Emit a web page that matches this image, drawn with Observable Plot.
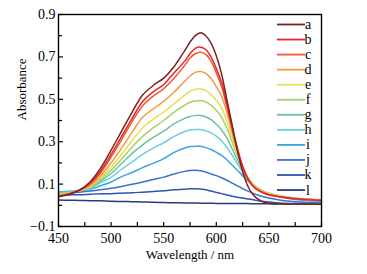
<!DOCTYPE html>
<html><head><meta charset="utf-8">
<script src="https://cdn.jsdelivr.net/npm/d3@7"></script>
<script src="https://cdn.jsdelivr.net/npm/@observablehq/plot@0.6"></script>
<style>
body{margin:0;background:#fff}
svg{display:block}
svg text, svg tspan, svg g{font-family:"Liberation Serif", "Times New Roman", serif !important;}
</style>
</head><body><div id="chart"></div>
<script>
const wavelengths = [450,460,470,480,490,500,510,520,530,540,550,560,570,575,580,585,590,595,600,605,610,615,620,625,630,635,640,645,650,660,670,680,690,700];
const seriesNames = ["a","b","c","d","e","f","g","h","i","j","k","l"];
const seriesColors = ["#7b2222","#e8262a","#f05530","#f59a40","#e4e055","#a5d06a","#6cc296","#6ccfdc","#3ea3e2","#3a72c6","#2a55b2","#2b3a7e"];
const a = [.040,.052,.072,.11,.175,.26,.35,.44,.52,.565,.60,.655,.73,.77,.80,.814,.80,.765,.705,.62,.50,.38,.26,.16,.09,.05,.028,.015,.010,.007,.006,.006,.005,.005];
const b = [.042,.053,.072,.105,.162,.24,.325,.41,.49,.535,.57,.625,.68,.715,.74,.746,.735,.70,.645,.58,.48,.37,.27,.185,.125,.09,.07,.058,.05,.04,.033,.028,.025,.022];
const c = [.044,.054,.072,.10,.152,.228,.31,.395,.47,.515,.55,.60,.66,.695,.715,.722,.712,.68,.625,.56,.465,.36,.265,.18,.125,.09,.07,.058,.05,.04,.034,.03,.027,.025];
const d = [.047,.056,.071,.092,.138,.20,.27,.345,.415,.455,.49,.535,.585,.61,.627,.631,.622,.598,.56,.515,.44,.345,.255,.18,.13,.095,.075,.062,.052,.042,.035,.03,.027,.024];
const e = [.05,.058,.07,.088,.13,.18,.24,.305,.365,.405,.44,.48,.52,.538,.547,.549,.542,.522,.495,.46,.40,.32,.245,.18,.13,.097,.077,.064,.055,.044,.036,.031,.027,.024];
const f = [.053,.06,.07,.085,.122,.165,.218,.275,.325,.365,.40,.44,.472,.486,.492,.494,.488,.472,.448,.415,.365,.30,.235,.178,.13,.098,.078,.065,.056,.045,.037,.031,.027,.024];
const g = [.056,.062,.07,.082,.115,.15,.197,.245,.285,.32,.35,.385,.41,.419,.423,.424,.418,.404,.382,.355,.318,.268,.215,.168,.127,.097,.078,.065,.056,.045,.037,.031,.027,.024];
const h = [.06,.064,.07,.078,.107,.132,.17,.205,.24,.27,.295,.325,.348,.355,.358,.357,.352,.342,.326,.304,.274,.237,.196,.157,.122,.095,.077,.064,.055,.044,.036,.03,.026,.023];
const i_ = [.064,.066,.069,.074,.092,.11,.135,.155,.178,.198,.22,.25,.27,.277,.279,.278,.272,.263,.25,.235,.215,.19,.165,.14,.115,.095,.08,.065,.055,.04,.031,.025,.021,.018];
const j = [.058,.06,.062,.067,.073,.08,.089,.099,.11,.122,.133,.148,.16,.164,.165,.163,.157,.148,.14,.13,.118,.105,.092,.079,.067,.056,.047,.04,.034,.025,.019,.015,.013,.011];
const k = [.048,.049,.05,.052,.054,.055,.057,.059,.062,.065,.069,.073,.076,.078,.078,.077,.073,.067,.061,.055,.049,.043,.038,.034,.03,.026,.022,.018,.015,.011,.009,.008,.007,.007];
const l = [.025,.024,.023,.022,.021,.019,.018,.017,.016,.014,.013,.012,.011,.011,.011,.010,.010,.010,.009,.009,.009,.008,.008,.008,.008,.007,.007,.007,.007,.006,.006,.006,.005,.005];
const seriesValues = [a,b,c,d,e,f,g,h,i_,j,k,l];

const xTicks = [450,500,550,600,650,700];
const xMinorTicks = [475,525,575,625,675];
const yTicks = [-0.1,0.1,0.3,0.5,0.7,0.9];
const yMinorTicks = [0,0.2,0.4,0.6,0.8];
const xLabel = "Wavelength / nm";
const yLabel = "Absorbance";

// draw "a" last so it sits on top
const rows = seriesNames.map((name, si) => ({name, si})).reverse()
  .flatMap(({name, si}) => wavelengths.map((w, idx) => ({series: name, wl: w, abs: seriesValues[si][idx]})));

const font = "Liberation Serif, Times New Roman, serif";
const W = 367, H = 274, mL = 58, mR = 46, mT = 14, mB = 48;
const fw = W - mL - mR, fh = H - mT - mB;

const chart = Plot.plot({
  width: W, height: H,
  marginLeft: mL, marginRight: mR, marginTop: mT, marginBottom: mB,
  style: {fontFamily: font, fontSize: "14px", color: "#000", background: "#fff", overflow: "visible"},
  x: {domain: [450, 700]},
  y: {domain: [-0.1, 0.9]},
  color: {domain: seriesNames, range: seriesColors},
  marks: [
    Plot.line(rows, {x: "wl", y: "abs", z: "series", stroke: "series", strokeWidth: 1.5, curve: "catmull-rom", clip: true}),
    Plot.tickX(xTicks.concat(xMinorTicks), {x: v => v, insetTop: fh - 4, stroke: "#000", strokeWidth: 1.2}),
    Plot.tickY(yTicks, {y: v => v, insetRight: fw - 5, stroke: "#000", strokeWidth: 1.2}),
    Plot.tickY(yMinorTicks, {y: v => v, insetRight: fw - 4, stroke: "#000", strokeWidth: 1.2}),
    Plot.axisX(xTicks, {tickSize: 0, tickPadding: 7, label: null, tickFormat: v => String(v), fontSize: 14}),
    Plot.axisY(yTicks, {tickSize: 0, tickPadding: 3, label: null, tickFormat: v => v.toFixed(1).replace("-", "\u2212"), fontSize: 14}),
    Plot.text([yLabel], {frameAnchor: "left", rotate: -90, dx: -37, fontSize: 13, fill: "#000"}),
    Plot.text([xLabel], {frameAnchor: "bottom", dy: 32, fontSize: 13, fill: "#000"}),
    Plot.frame({stroke: "#000", strokeWidth: 1.4})
  ]
});

// legend (layout in pixels, inside the frame top-right)
const svg = d3.select(chart);
const lg = svg.append("g").attr("font-family", font).attr("font-size", 14);
const lx1 = 277, lx2 = 305, ly0 = 24.5, lstep = 15.05;
seriesNames.forEach((name, idx) => {
  const y = ly0 + idx * lstep;
  lg.append("line").attr("x1", lx1).attr("x2", lx2).attr("y1", y).attr("y2", y)
    .attr("stroke", seriesColors[idx]).attr("stroke-width", 1.8);
  lg.append("text").attr("x", lx2 + 3).attr("y", y).attr("dy", "0.32em").attr("fill", "#000").text(name);
});

document.getElementById("chart").appendChild(chart);
</script>
</body></html>
